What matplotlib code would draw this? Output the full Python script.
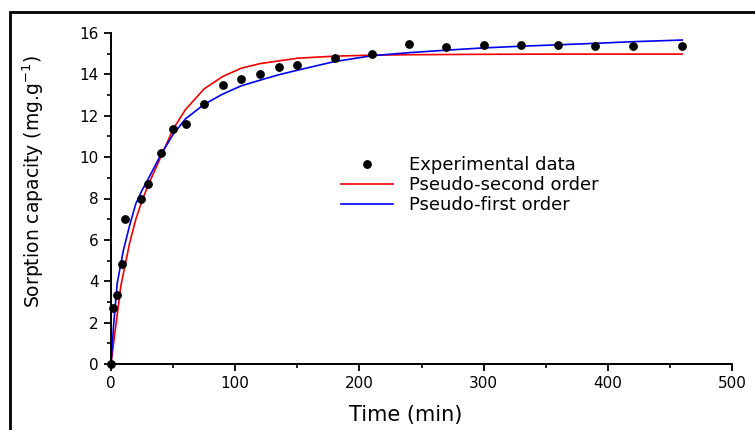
import matplotlib
matplotlib.use('Agg')
import matplotlib.pyplot as plt
from matplotlib.patches import Rectangle
from matplotlib.ticker import MultipleLocator


# experimental points
t_exp = [0, 2, 4.6, 9.2, 11.4, 24, 30, 40, 50, 60, 75, 90, 105, 120, 135, 150,
         180, 210, 240, 270, 300, 330, 360, 390, 420, 460]
q_exp = [0, 2.72, 3.32, 4.83, 7.0, 7.96, 8.7, 10.2, 11.37, 11.6, 12.55, 13.5,
         13.8, 14.02, 14.35, 14.43, 14.78, 15.0, 15.46, 15.31, 15.4, 15.4,
         15.4, 15.38, 15.38, 15.38]

# pseudo-second order curve (red)
t_pso = [0, 3, 8, 15, 20, 25, 30, 40, 50, 60, 75, 90, 105, 120, 150, 180,
         210, 240, 300, 360, 420, 460]
q_pso = [0, 1.45, 3.8, 5.85, 7.0, 7.9, 8.65, 10.0, 11.35, 12.3, 13.3, 13.9,
         14.3, 14.52, 14.78, 14.88, 14.93, 14.95, 14.97, 14.98, 14.98, 14.98]

# pseudo-first order curve (blue)
t_pfo = [0, 2, 5, 10, 15, 20, 25, 30, 40, 50, 60, 75, 90, 105, 120, 135, 150,
         180, 210, 240, 270, 300, 330, 360, 390, 420, 460]
q_pfo = [0, 1.8, 3.9, 5.5, 6.7, 7.75, 8.4, 8.95, 10.1, 11.1, 11.85, 12.55,
         13.05, 13.45, 13.72, 13.98, 14.2, 14.62, 14.9, 15.05, 15.17, 15.28,
         15.36, 15.43, 15.5, 15.58, 15.66]

labels = ['Experimental data', 'Pseudo-second order', 'Pseudo-first order']


fig = plt.figure(figsize=(7.55, 4.3), dpi=100)
ax = fig.add_axes([111/755, 1 - 364/430, 621/755, 331/430])

ax.plot(t_exp, q_exp, 'o', color='black', markersize=5.3, label=labels[0],
        clip_on=False, zorder=3)
ax.plot(t_pso, q_pso, '-', color='#ee0000', lw=1.2, label=labels[1])
ax.plot(t_pfo, q_pfo, '-', color='#0000ee', lw=1.2, label=labels[2])

ax.set_xlim(0, 500)
ax.set_ylim(0, 16)
ax.xaxis.set_major_locator(MultipleLocator(100))
ax.xaxis.set_minor_locator(MultipleLocator(50))
ax.yaxis.set_major_locator(MultipleLocator(2))
ax.yaxis.set_minor_locator(MultipleLocator(1))

ax.spines['top'].set_visible(False)
ax.spines['right'].set_visible(False)
for s in ['left', 'bottom']:
    ax.spines[s].set_linewidth(1.4)
ax.tick_params(which='major', direction='out', length=5, width=1.3,
               labelsize=11, pad=4)
ax.tick_params(which='minor', direction='out', length=3, width=1.2)

ax.set_xlabel('Time (min)', fontsize=15)
ax.set_ylabel('Sorption capacity (mg.g$^{-1}$)', fontsize=13.5)
ax.xaxis.set_label_coords(0.475, -0.125)
ax.yaxis.set_label_coords(-0.105, 0.55)

ax.legend(loc='upper left', bbox_to_anchor=(0.344, 0.678), frameon=False,
          fontsize=13, handlelength=2.9, handletextpad=0.9,
          labelspacing=0.12, borderpad=0.4, numpoints=1)

# outer frame of the picture
fig.patches.append(Rectangle((10/755, -0.2), 1.5, 1.2 - 12/430,
                             transform=fig.transFigure, fill=False,
                             edgecolor='black', lw=2))

fig.savefig('out.png', dpi=100)
